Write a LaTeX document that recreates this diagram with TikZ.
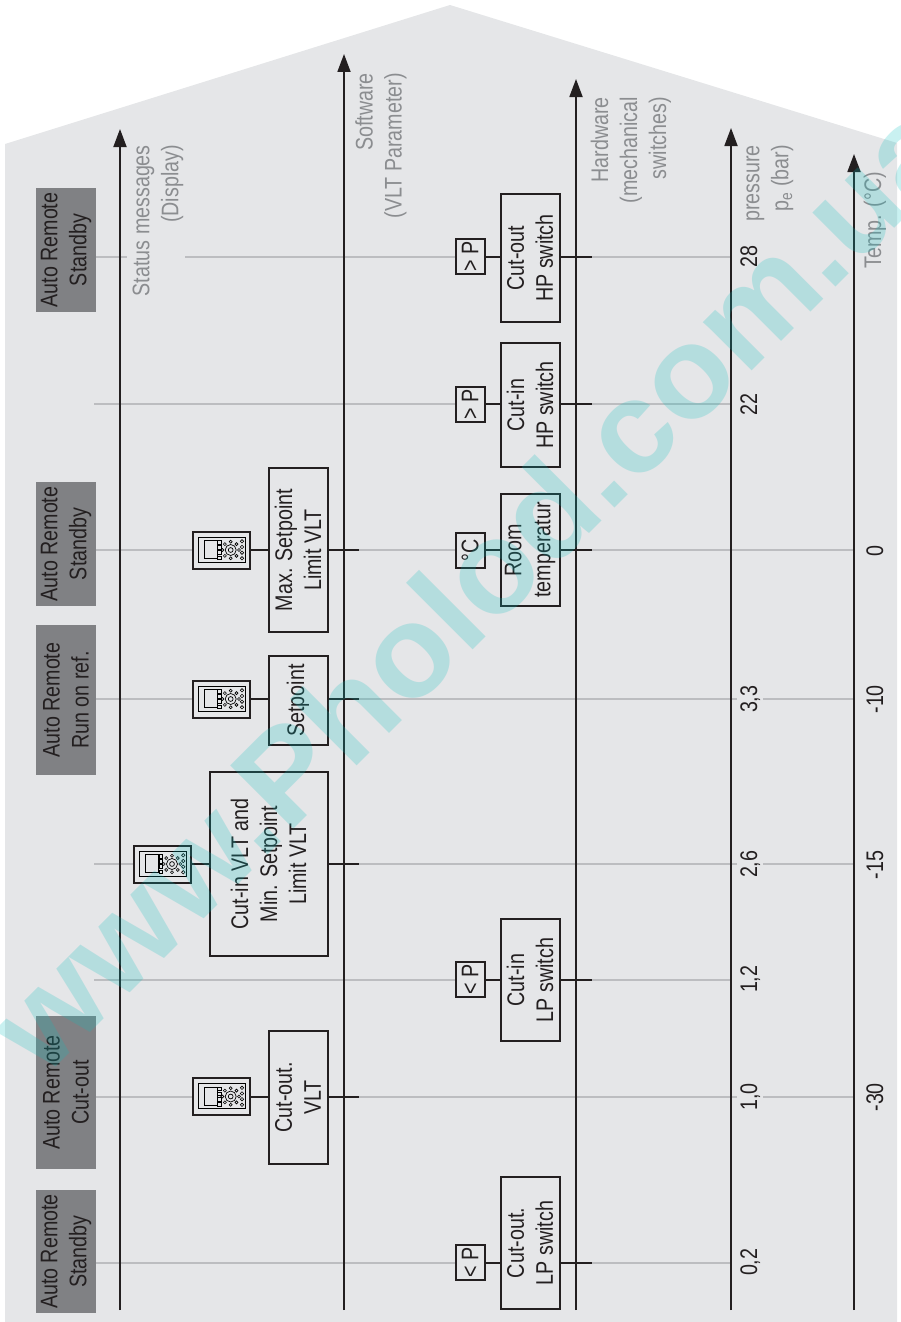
\documentclass[tikz,border=0pt]{standalone}
\usepackage{fontspec}
\setmainfont[FakeStretch=0.82]{Liberation Sans}
\newfontfamily\markfont[FakeStretch=1.03]{Liberation Sans}
\usepackage{tikz}
\usetikzlibrary{arrows.meta}
\definecolor{panelgray}{HTML}{E5E6E8}
\definecolor{statusgray}{HTML}{808184}
\definecolor{rowgray}{HTML}{BCBDC0}
\definecolor{labgray}{HTML}{8B8D90}
\definecolor{inkblack}{HTML}{231F20}
\definecolor{marktint}{HTML}{0ABEBE}
\tikzset{
  keypad/.pic={
    \draw[line width=0.7pt] (-23.5,-13) rectangle (23.5,12);
    \draw[line width=0.7pt] (-17.5,-9.5) rectangle (-4.5,8.5);
    \draw[line width=0.6pt] (-4,-10) rectangle +(3.6,3.6) (-4,-4.8) rectangle +(3.6,3.6) (-4,0.4) rectangle +(3.6,3.6) (-4,5.6) rectangle +(3.6,3.6);
    \draw[line width=0.7pt] (9.2,-0.3) circle[radius=5.5] (9.2,-0.3) circle[radius=2.4];
    \draw[line width=0.6pt] (9.2,-8.6) circle[radius=1.5] (15,-6.2) circle[radius=1.5] (17.5,-0.3) circle[radius=1.5] (15,5.6) circle[radius=1.5] (9.2,8) circle[radius=1.5] (3.4,5.6) circle[radius=1.5] (0.9,-0.3) circle[radius=1.5] (3.4,-6.2) circle[radius=1.5];
    \draw[line width=0.6pt] (20.5,-9) circle[radius=1.7] (20.5,-3.3) circle[radius=1.7] (20.5,2.4) circle[radius=1.7] (20.5,8) circle[radius=1.7];
  }
}
\begin{document}
\begin{tikzpicture}[
  x=1pt, y=-1pt,
  font=\fontsize{24}{29}\selectfont,
  text=inkblack,
  status/.style={fill=statusgray, rotate=90, align=center, minimum height=60pt, inner sep=2pt},
  box/.style={draw=inkblack, fill=panelgray, line width=2pt, rotate=90, align=center, minimum height=59pt, inner sep=2pt},
  pbox/.style={draw=inkblack, fill=panelgray, line width=2pt, rotate=90, minimum width=35pt, minimum height=29pt, inner sep=0pt},
  keybox/.style={draw=inkblack, fill=panelgray, line width=2pt, minimum width=57pt, minimum height=37pt, inner sep=0pt},
  lab/.style={text=labgray, rotate=90, align=right, anchor=east, inner sep=0pt},
  numlab/.style={rotate=90, anchor=base, inner xsep=0pt, inner ysep=3pt},
  axis/.style={-{Triangle[length=18pt,width=13pt]}, draw=inkblack, line width=1.8pt},
  rowline/.style={draw=rowgray, line width=1.9pt},
  link/.style={draw=inkblack, line width=2pt}
]
\useasboundingbox (0,0) rectangle (900,1322);
\fill[panelgray] (5,144) -- (450,5) -- (897,143) -- (897,1322) -- (5,1322) -- cycle;
% axes ends
\coordinate (st0) at (120,1310);
\coordinate (st1) at (120,129);
\coordinate (sw0) at (344,1310);
\coordinate (sw1) at (344,54);
\coordinate (hw0) at (576,1310);
\coordinate (hw1) at (576,79);
\coordinate (pr0) at (731,1310);
\coordinate (pr1) at (731,128);
\coordinate (tp0) at (854,1310);
\coordinate (tp1) at (854,154);
\coordinate (swtick) at (359,0);
\coordinate (hwtick) at (592,0);
% status messages
\node[status, minimum width=124pt] (st28) at (66,250) {Auto Remote\\Standby};
\node[status, minimum width=124pt] (st0c) at (66,544) {Auto Remote\\Standby};
\node[status, minimum width=150pt] (st33) at (66,700) {Auto Remote\\Run on ref.};
\node[status, minimum width=153pt] (st10) at (66,1092.5) {Auto Remote\\Cut-out};
\node[status, minimum width=123pt] (st02) at (66,1251.5) {Auto Remote\\Standby};
% software parameters
\node[box, minimum width=164pt] (maxlim) at (298,550) {Max. Setpoint\\Limit VLT};
\node[box, minimum width=89pt] (setp) at (298,700.5) {Setpoint};
\node[box, minimum width=184pt, minimum height=118pt] (cutin) at (268.5,864) {Cut-in VLT and\\Min. Setpoint\\Limit VLT};
\node[box, minimum width=133pt] (cutvlt) at (298,1097.5) {Cut-out.\\VLT};
\node[keybox] (k0c) at (221.5,550.3) {};
\node[keybox] (k33) at (221.5,699.3) {};
\node[keybox] (k26) at (162.8,864.3) {};
\node[keybox] (k10) at (221.5,1096.8) {};
\pic at (k0c) {keypad};
\pic at (k33) {keypad};
\pic at (k26) {keypad};
\pic at (k10) {keypad};
% hardware switches
\node[box, minimum width=128pt] (hpout) at (530,258) {Cut-out\\HP switch};
\node[box, minimum width=124pt] (hpin) at (530,405) {Cut-in\\HP switch};
\node[box, minimum width=112pt] (room) at (530,550) {Room\\temperatur};
\node[box, minimum width=122pt] (lpin) at (530,980) {Cut-in\\LP switch};
\node[box, minimum width=132pt] (lpout) at (530,1243) {Cut-out.\\LP switch};
\node[pbox] (pb28) at (470,256.7) {> P};
\node[pbox] (pb22) at (470,404.3) {> P};
\node[pbox] (pb0c) at (470,550.3) {°C};
\node[pbox] (pb12) at (470,979.7) {< P};
\node[pbox] (pb02) at (470,1262.7) {< P};
% scale values
\node[numlab] (p28) at (757,256.7) {28};
\node[numlab] (p22) at (757,404.3) {22};
\node[numlab] (p33) at (757,699.3) {3,3};
\node[numlab] (p26) at (757,864.3) {2,6};
\node[numlab] (p12) at (757,979.3) {1,2};
\node[numlab] (p10) at (757,1096.8) {1,0};
\node[numlab] (p02) at (757,1262.3) {0,2};
\node[numlab] (t0c) at (883,550.8) {0};
\node[numlab] (t33) at (883,699.3) {-10};
\node[numlab] (t26) at (883,864.8) {-15};
\node[numlab] (t10) at (883,1097.3) {-30};
% axis captions
\node[lab] (stlab) at (158,145) {Status messages\\(Display)};
\node[lab] (swlab) at (381,73) {Software\\(VLT Parameter)};
\node[lab] (hwlab) at (631,97) {Hardware\\(mechanical\\switches)};
\node[lab] (prlab) at (770,145) {pressure\\p\textsubscript{e} (bar)};
\node[lab] (tplab) at (875,172) {Temp. (°C)};
% grey rows
\coordinate (gapa) at (127,256.7);
\coordinate (gapb) at (185,256.7);
\coordinate (g22) at (94,404.3);
\coordinate (g26) at (94,864.3);
\coordinate (g12) at (94,979.7);
\draw[rowline] (st28.south |- pb28) -- (gapa);
\draw[rowline] (gapb) -- (pb28.north);
\draw[rowline] (pb28 -| hwtick) -- (pb28 -| pr1);
\draw[rowline] (g22) -- (pb22.north);
\draw[rowline] (pb22 -| hwtick) -- (pb22 -| pr1);
\draw[rowline] (st0c.south |- k0c) -- (k0c.west);
\draw[rowline] (k0c -| swtick) -- (pb0c.north);
\draw[rowline] (pb0c -| hwtick) -- (pb0c -| tp1);
\draw[rowline] (st33.south |- k33) -- (k33.west);
\draw[rowline] (k33 -| swtick) -- (p33.north);
\draw[rowline] (p33.south) -- (k33 -| tp1);
\draw[rowline] (g26) -- (k26.west);
\draw[rowline] (k26 -| swtick) -- (p26.north);
\draw[rowline] (p26.south) -- (k26 -| tp1);
\draw[rowline] (g12) -- (pb12.north);
\draw[rowline] (pb12 -| hwtick) -- (pb12 -| pr1);
\draw[rowline] (st10.south |- k10) -- (k10.west);
\draw[rowline] (k10 -| swtick) -- (p10.north);
\draw[rowline] (p10.south) -- (k10 -| tp1);
\draw[rowline] (st02.south |- pb02) -- (pb02.north);
\draw[rowline] (pb02 -| hwtick) -- (pb02 -| pr1);
% axes
\draw[axis] (st0) -- (st1);
\draw[axis] (sw0) -- (sw1);
\draw[axis] (hw0) -- (hw1);
\draw[axis] (pr0) -- (pr1);
\draw[axis] (tp0) -- (tp1);
% black links and ticks
\draw[link] (k0c.east) -- (k0c -| maxlim.north);
\draw[link] (k0c -| maxlim.south) -- (k0c -| swtick);
\draw[link] (k33.east) -- (k33 -| setp.north);
\draw[link] (k33 -| setp.south) -- (k33 -| swtick);
\draw[link] (k26.east) -- (k26 -| cutin.north);
\draw[link] (k26 -| cutin.south) -- (k26 -| swtick);
\draw[link] (k10.east) -- (k10 -| cutvlt.north);
\draw[link] (k10 -| cutvlt.south) -- (k10 -| swtick);
\draw[link] (pb28.south) -- (pb28 -| hpout.north);
\draw[link] (pb28 -| hpout.south) -- (pb28 -| hwtick);
\draw[link] (pb22.south) -- (pb22 -| hpin.north);
\draw[link] (pb22 -| hpin.south) -- (pb22 -| hwtick);
\draw[link] (pb0c.south) -- (pb0c -| room.north);
\draw[link] (pb0c -| room.south) -- (pb0c -| hwtick);
\draw[link] (pb12.south) -- (pb12 -| lpin.north);
\draw[link] (pb12 -| lpin.south) -- (pb12 -| hwtick);
\draw[link] (pb02.south) -- (pb02 -| lpout.north);
\draw[link] (pb02 -| lpout.south) -- (pb02 -| hwtick);
% tint over everything
\begin{scope}
\clip (0,0) rectangle (900,1322);
\node[rotate=45, anchor=base, text=marktint, text opacity=0.22, inner sep=0pt, font=\markfont\bfseries\fontsize{130}{130}\selectfont] (mark) at (505,618) {www.Pholod.com.ua};
\end{scope}
\end{tikzpicture}
\end{document}
